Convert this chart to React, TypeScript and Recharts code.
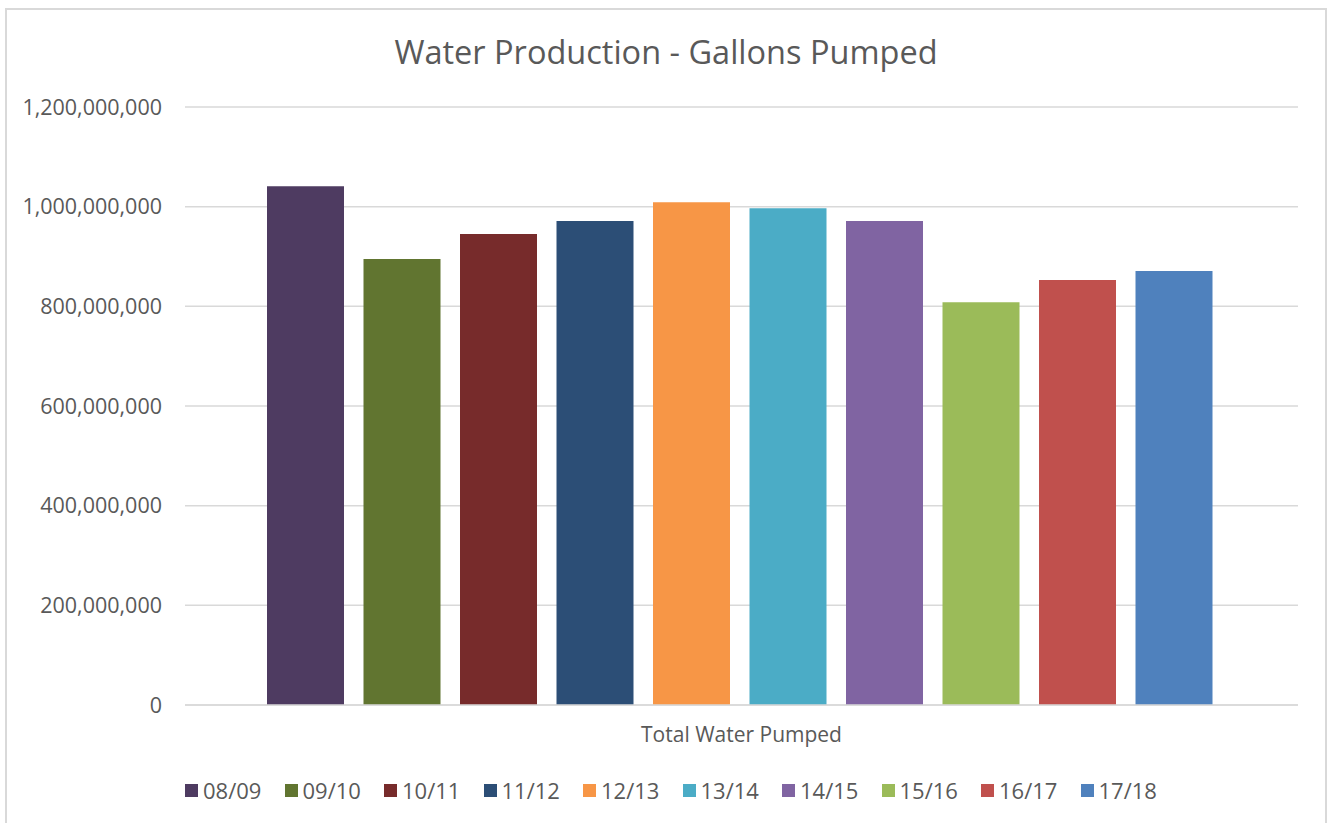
import React from "react";
import { BarChart, Bar, XAxis, YAxis, CartesianGrid, Legend } from "recharts";

const categories = ["Total Water Pumped"];
const seriesLabels = ["08/09", "09/10", "10/11", "11/12", "12/13", "13/14", "14/15", "15/16", "16/17", "17/18"];
const seriesValues = [1041000000, 895000000, 945000000, 971000000, 1009000000, 997000000, 971000000, 808000000, 853000000, 871000000];
const seriesColors = ["#4e3b61", "#617530", "#772b2b", "#2c4e76", "#f79646", "#4bacc6", "#8064a2", "#9bbb59", "#c0504d", "#4f81bd"];
const yTicks = [0, 200000000, 400000000, 600000000, 800000000, 1000000000, 1200000000];

const data = categories.map((name) => {
  const row: Record<string, any> = { name };
  seriesLabels.forEach((s, i) => {
    row[s] = seriesValues[i];
  });
  return row;
});

const FONT = "'Open Sans', sans-serif";
const TEXT = "#595959";

const fmt = (v: number) => v.toLocaleString("en-US");

const LegendContent = (props: any) => {
  const payload = props.payload || [];
  return (
    <div style={{ display: "flex", alignItems: "center", height: 30, fontFamily: FONT, fontSize: 22, color: TEXT }}>
      {payload.map((p: any, i: number) => (
        <div key={i} style={{ display: "flex", alignItems: "center", width: i < payload.length - 1 ? 99.5 : "auto" }}>
          <div style={{ width: 13, height: 13, background: p.color, marginRight: 5 }} />
          <span style={{ lineHeight: "30px" }}>{p.value}</span>
        </div>
      ))}
    </div>
  );
};

export default function App() {
  return (
    <div style={{ position: "absolute", left: 0, top: 0, width: 1330, height: 823, overflow: "hidden", background: "#fff" }}>
      <div
        style={{
          position: "absolute",
          left: 5,
          top: 8,
          width: 1322,
          height: 840,
          border: "2px solid #d9d9d9",
          boxSizing: "border-box",
        }}
      />
      <div
        style={{
          position: "absolute",
          left: 0,
          top: 29,
          width: 1332,
          textAlign: "center",
          fontFamily: FONT,
          fontSize: 32.5,
          color: TEXT,
          lineHeight: "46px",
        }}
      >
        Water Production - Gallons Pumped
      </div>
      <div style={{ position: "absolute", left: 0, top: 0 }}>
        <BarChart
          width={1330}
          height={823}
          data={data}
          margin={{ top: 107, right: 32, left: 0, bottom: 18 }}
          barCategoryGap={82}
          barGap={19.5}
        >
          <CartesianGrid vertical={false} stroke="#d9d9d9" strokeWidth={1.5} />
          <XAxis
            dataKey="name"
            height={70}
            axisLine={{ stroke: "#d9d9d9", strokeWidth: 1.5 }}
            tickLine={false}
            tickSize={0}
            tickMargin={22}
            tick={{ fill: TEXT, fontFamily: FONT, fontSize: 21 }}
          />
          <YAxis
            width={185}
            domain={[0, 1200000000]}
            ticks={yTicks}
            tickFormatter={fmt}
            axisLine={false}
            tickLine={false}
            tickSize={0}
            tickMargin={23}
            tick={{ fill: TEXT, fontFamily: FONT, fontSize: 21.5 }}
            interval={0}
          />
          <Legend
            verticalAlign="bottom"
            content={<LegendContent />}
            wrapperStyle={{ left: 185, bottom: 18, height: 30 }}
          />
          {seriesLabels.map((s, i) => (
            <Bar key={s} dataKey={s} name={s} fill={seriesColors[i]} isAnimationActive={false} />
          ))}
        </BarChart>
      </div>
    </div>
  );
}
